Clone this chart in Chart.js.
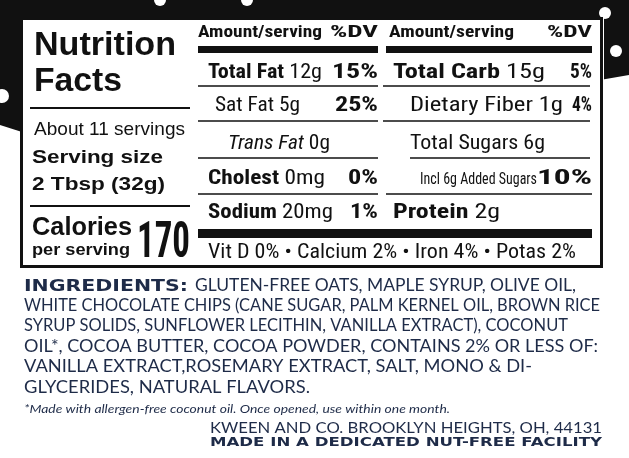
<!DOCTYPE html>
<html>
<head>
<meta charset="utf-8">
<script src="https://cdn.jsdelivr.net/npm/chart.js@4"></script>
<style>
  html, body { margin: 0; padding: 0; background: #fff; }
  #wrap { width: 629px; height: 458px; }
</style>
</head>
<body>
<div id="wrap"><canvas id="label"></canvas></div>
<script>
// label data
const servingInfo = ['About 11 servings', 'Serving size', '2 Tbsp (32g)'];
const calories = '170';
const leftNames = ['Total Fat', 'Sat Fat', 'Trans Fat', 'Cholest', 'Sodium'];
const leftAmounts = ['12g', '5g', '0g', '0mg', '20mg'];
const leftDV = ['15%', '25%', '', '0%', '1%'];
const rightNames = ['Total Carb', 'Dietary Fiber', 'Total Sugars', 'Incl 6g Added Sugars', 'Protein'];
const rightAmounts = ['15g', '1g', '6g', '', '2g'];
const rightDV = ['5%', '4%', '', '10%', ''];
const vitamins = 'Vit D 0% • Calcium 2% • Iron 4% • Potas 2%';
const ingredientLines = [
  'GLUTEN-FREE OATS, MAPLE SYRUP, OLIVE OIL,',
  'WHITE CHOCOLATE CHIPS (CANE SUGAR, PALM KERNEL OIL, BROWN RICE',
  'SYRUP SOLIDS, SUNFLOWER LECITHIN, VANILLA EXTRACT), COCONUT',
  'OIL*, COCOA BUTTER, COCOA POWDER, CONTAINS 2% OR LESS OF:',
  'VANILLA EXTRACT,ROSEMARY EXTRACT, SALT, MONO & DI-',
  'GLYCERIDES, NATURAL FLAVORS.'
];
const footnote = '*Made with allergen-free coconut oil. Once opened, use within one month.';
const address = 'KWEEN AND CO. BROOKLYN HEIGHTS, OH, 44131';
const facility = 'MADE IN A DEDICATED NUT-FREE FACILITY';

const NARROW = '"Liberation Sans Narrow", "Arial Narrow", "Roboto Condensed", sans-serif';
const SANS = '"Liberation Sans", Arial, sans-serif';
const NAVY = '#1e2b48';

function fit(ctx, text, x, y, w, font, align) {
  ctx.save();
  ctx.font = font;
  const m = ctx.measureText(text).width;
  const s = w / m;
  let x0 = x;
  if (align === 'right') x0 = x - w;
  ctx.translate(x0, y);
  ctx.scale(s, 1);
  ctx.textAlign = 'left';
  ctx.fillText(text, 0, 0);
  ctx.restore();
}

// bold name + regular amount in one run, fitted to width w
function nameAmount(ctx, name, amount, x, y, w, size, nameBold, italic) {
  ctx.save();
  const fb = (italic ? 'italic ' : '') + (nameBold ? 'bold ' : '') + size + 'px ' + NARROW;
  const fr = size + 'px ' + NARROW;
  ctx.font = fb; const a = ctx.measureText(name + ' ').width;
  ctx.font = fr; const b = ctx.measureText(amount).width;
  const s = w / (a + b);
  ctx.translate(x, y); ctx.scale(s, 1);
  ctx.font = fb; ctx.fillText(name + ' ', 0, 0);
  ctx.font = fr; ctx.fillText(amount, a, 0);
  ctx.restore();
}

function hline(ctx, a, b, y) {
  ctx.beginPath(); ctx.moveTo(a, y); ctx.lineTo(b, y); ctx.stroke();
}

const labelPlugin = {
  id: 'nutritionLabel',
  afterDraw(chart) {
    const ctx = chart.ctx;
    ctx.save();
    ctx.fillStyle = '#fff';
    ctx.fillRect(0, 0, 629, 458);
    // black background shape
    ctx.fillStyle = '#111';
    ctx.beginPath();
    ctx.moveTo(0, 0); ctx.lineTo(629, 0); ctx.lineTo(629, 75);
    ctx.lineTo(600, 80); ctx.lineTo(22, 132); ctx.lineTo(0, 125);
    ctx.closePath(); ctx.fill();
    ctx.fillStyle = '#fff';
    [[160, 0, 6], [247, 0, 6], [605, 13, 6], [616, 51, 6], [2, 96, 7]].forEach(([cx, cy, r]) => {
      ctx.beginPath(); ctx.arc(cx, cy, r, 0, Math.PI * 2); ctx.fill();
    });
    // label box
    ctx.fillStyle = '#fff';
    ctx.fillRect(20, 17, 584, 252);
    ctx.strokeStyle = '#111'; ctx.lineWidth = 3;
    ctx.strokeRect(21.5, 18.5, 580, 248);
    ctx.fillStyle = '#111';
    ctx.textBaseline = 'alphabetic';

    // left panel
    fit(ctx, 'Nutrition', 34, 55, 142, 'bold 33px ' + SANS);
    fit(ctx, 'Facts', 34, 91, 88, 'bold 33px ' + SANS);
    ctx.fillRect(30, 107, 160, 2);
    fit(ctx, servingInfo[0], 34, 135, 151, '19px ' + SANS);
    fit(ctx, servingInfo[1], 32, 163, 131, 'bold 19px ' + SANS);
    fit(ctx, servingInfo[2], 32, 190, 133, 'bold 19px ' + SANS);
    ctx.fillRect(30, 205, 160, 2);
    fit(ctx, 'Calories', 32, 235, 100, 'bold 26px ' + SANS);
    fit(ctx, 'per serving', 32, 255, 98, 'bold 17px ' + SANS);
    fit(ctx, calories, 137, 257, 53, 'bold 50px ' + NARROW);

    // column headers & bars
    fit(ctx, 'Amount/serving', 198, 37, 124, 'bold 16px ' + NARROW);
    fit(ctx, '%DV', 378, 37, 48, 'bold 16px ' + NARROW, 'right');
    fit(ctx, 'Amount/serving', 389, 37, 125, 'bold 16px ' + NARROW);
    fit(ctx, '%DV', 592, 37, 45, 'bold 16px ' + NARROW, 'right');
    ctx.fillRect(198, 46, 180, 7);
    ctx.fillRect(386, 46, 206, 7);

    const rowY = [78, 111, 149, 184, 218];
    // left column rows
    const lx = [208, 215, 228, 208, 208];
    const lw = [114, 85, 102, 117, 125];
    const ldw = [46, 43, 0, 30, 28];
    for (let i = 0; i < leftNames.length; i++) {
      const bold = i === 0 || i >= 3;
      nameAmount(ctx, leftNames[i], leftAmounts[i], lx[i], rowY[i], lw[i], 21, bold, i === 2);
      if (leftDV[i]) fit(ctx, leftDV[i], 378, rowY[i], ldw[i], 'bold 21px ' + NARROW, 'right');
    }
    // right column rows
    const rx = [393, 410, 410, 420, 393];
    const rw = [152, 153, 135, 117, 107];
    const rdw = [22, 20, 0, 55, 0];
    for (let i = 0; i < rightNames.length; i++) {
      if (i === 3) {
        fit(ctx, rightNames[i], rx[i], rowY[i], rw[i], '17px ' + NARROW);
      } else {
        nameAmount(ctx, rightNames[i], rightAmounts[i], rx[i], rowY[i], rw[i], 21, i === 0 || i === 4, false);
      }
      if (rightDV[i]) fit(ctx, rightDV[i], 592, rowY[i], rdw[i], 'bold 21px ' + NARROW, 'right');
    }
    ctx.lineWidth = 1.5;
    [86, 121, 158, 194].forEach(y => hline(ctx, 198, 378, y));
    hline(ctx, 383, 590, 86);
    hline(ctx, 383, 590, 121);
    hline(ctx, 410, 590, 158);
    hline(ctx, 386, 592, 194);
    ctx.fillRect(198, 229, 394, 9);
    fit(ctx, vitamins, 208, 258, 368, '20px ' + NARROW);

    // ingredients
    ctx.fillStyle = NAVY;
    const ingW = [381, 576, 544, 574, 508, 286];
    const ingX = [195, 24, 24, 24, 24, 24];
    const ingY = [291, 311, 331, 352, 372, 393];
    fit(ctx, 'INGREDIENTS:', 24, 291, 164, 'bold 16px "DejaVu Sans", sans-serif');
    for (let i = 0; i < ingredientLines.length; i++) {
      fit(ctx, ingredientLines[i], ingX[i], ingY[i], ingW[i], '18px Lato, "Open Sans", sans-serif');
    }
    fit(ctx, footnote, 24, 413, 426, 'italic 11px Lato, "Open Sans", sans-serif');
    fit(ctx, address, 602, 433, 392, '16px Lato, "Open Sans", sans-serif', 'right');
    fit(ctx, facility, 602, 446, 392, 'bold 13px "DejaVu Sans", sans-serif', 'right');
    ctx.restore();
  }
};

new Chart(document.getElementById('label'), {
  type: 'bar',
  data: { labels: leftNames, datasets: [{ data: [], label: 'Nutrition' }] },
  options: {
    responsive: true,
    maintainAspectRatio: false,
    animation: false,
    events: [],
    scales: { x: { display: false }, y: { display: false } },
    plugins: { legend: { display: false }, tooltip: { enabled: false } }
  },
  plugins: [labelPlugin]
});
</script>
</body>
</html>
